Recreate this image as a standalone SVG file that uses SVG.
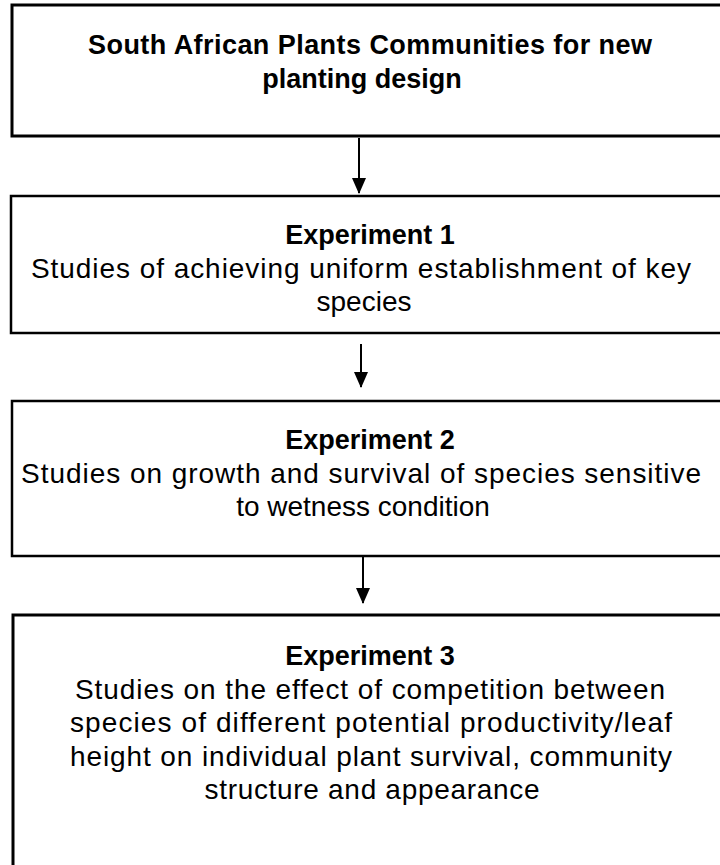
<svg xmlns="http://www.w3.org/2000/svg" width="720" height="865" viewBox="0 0 720 865">
<style>
.box{fill:#fff;stroke:#000;stroke-width:2.5}
.t{font-family:"Liberation Sans",Arial,sans-serif;font-size:28px;fill:#000;text-anchor:middle}
.b{font-weight:bold;font-size:27px}
.c{stroke:#000;stroke-width:2;fill:none}
</style>
<defs>
<marker id="ah" markerWidth="8" markerHeight="8" refX="7.5" refY="4" orient="auto" markerUnits="strokeWidth">
<path d="M0,0.5 L8,4 L0,7.5 Z" fill="#000"/>
</marker>
</defs>
<rect width="720" height="865" fill="#fff"/>
<g id="n0">
<rect class="box" x="12" y="5" width="730" height="131" style="stroke-width:3"/>
<text class="t b" x="370" y="54" textLength="564">South African Plants Communities for new</text>
<text class="t b" x="362" y="88">planting design</text>
</g>
<g id="n1">
<rect class="box" x="11" y="196" width="730" height="137"/>
<text class="t b" x="370" y="244">Experiment 1</text>
<text class="t" x="361" y="278" textLength="660">Studies of achieving uniform establishment of key</text>
<text class="t" x="364" y="311">species</text>
</g>
<g id="n2">
<rect class="box" x="12" y="401" width="730" height="155"/>
<text class="t b" x="370" y="449">Experiment 2</text>
<text class="t" x="361" y="483" textLength="680">Studies on growth and survival of species sensitive</text>
<text class="t" x="363" y="516">to wetness condition</text>
</g>
<g id="n3">
<rect class="box" x="13" y="615" width="730" height="270" style="stroke-width:3"/>
<text class="t b" x="370" y="665">Experiment 3</text>
<text class="t" x="370" y="699" textLength="590">Studies on the effect of competition between</text>
<text class="t" x="371" y="732" textLength="602">species of different potential productivity/leaf</text>
<text class="t" x="371" y="766" textLength="602">height on individual plant survival, community</text>
<text class="t" x="372" y="799" textLength="335">structure and appearance</text>
</g>
<g id="connectors">
<line class="c" x1="359" y1="138" x2="359" y2="193" marker-end="url(#ah)"/>
<line class="c" x1="361" y1="344" x2="361" y2="387" marker-end="url(#ah)"/>
<line class="c" x1="363" y1="557" x2="363" y2="603" marker-end="url(#ah)"/>
</g>
</svg>
